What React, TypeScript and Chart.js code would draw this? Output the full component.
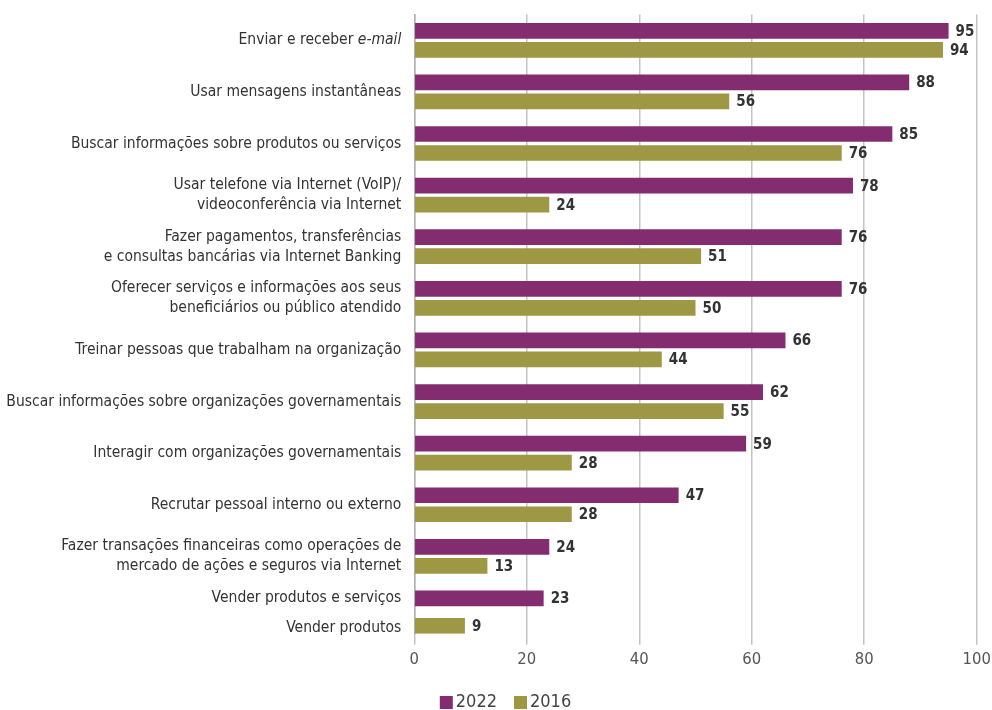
import React, { useEffect, useRef } from "react";
import { Chart, registerables } from "chart.js";

Chart.register(...registerables);

const FONT = "'Liberation Sans Narrow', 'DejaVu Sans Condensed', 'Roboto Condensed', 'Arial Narrow', sans-serif";

const categories: (string | string[])[] = [
  "Enviar e receber e-mail",
  "Usar mensagens instantâneas",
  "Buscar informações sobre produtos ou serviços",
  ["Usar telefone via Internet (VoIP)/", "videoconferência via Internet"],
  ["Fazer pagamentos, transferências", "e consultas bancárias via Internet Banking"],
  ["Oferecer serviços e informações aos seus", "beneficiários ou público atendido"],
  "Treinar pessoas que trabalham na organização",
  "Buscar informações sobre organizações governamentais",
  "Interagir com organizações governamentais",
  "Recrutar pessoal interno ou externo",
  ["Fazer transações financeiras como operações de", "mercado de ações e seguros via Internet"],
  ["", "Vender produtos e serviços", "", "", "Vender produtos"],
];

const values2022 = [95, 88, 85, 78, 76, 76, 66, 62, 59, 47, 24, 23];
const values2016 = [94, 56, 76, 24, 51, 50, 44, 55, 28, 28, 13, null];
const values2016Extra = [null, null, null, null, null, null, null, null, null, null, null, 9];
const spacer = [null, null, null, null, null, null, null, null, null, null, null, null];

const xTicks = [0, 20, 40, 60, 80, 100];

const PURPLE = "#842c70";
const OLIVE = "#9e9743";
const GRID = "#c4c4c4";
const LABEL_SIZE = 15.5;

const valueLabels = {
  id: "valueLabels",
  afterDatasetsDraw(chart: any) {
    const ctx = chart.ctx;
    ctx.save();
    ctx.font = `bold 15px ${FONT}`;
    ctx.fillStyle = "#333333";
    ctx.textAlign = "left";
    ctx.textBaseline = "middle";
    chart.data.datasets.forEach((ds: any, di: number) => {
      if (ds.isSpacer) return;
      const meta = chart.getDatasetMeta(di);
      meta.data.forEach((el: any, i: number) => {
        const v = ds.data[i];
        if (v === null || v === undefined) return;
        ctx.fillText(String(v), el.x + 7, el.y + 1);
      });
    });
    ctx.restore();
  },
};

const italicLabel = {
  id: "italicLabel",
  afterDraw(chart: any) {
    const ctx = chart.ctx;
    const yScale = chart.scales.y;
    const y = yScale.getPixelForTick(0);
    const right = yScale.right - 13;
    ctx.save();
    ctx.fillStyle = "#333333";
    ctx.textAlign = "right";
    ctx.textBaseline = "middle";
    ctx.font = `italic ${LABEL_SIZE}px ${FONT}`;
    const w = ctx.measureText("e-mail").width;
    ctx.fillText("e-mail", right, y);
    ctx.font = `${LABEL_SIZE}px ${FONT}`;
    ctx.fillText("Enviar e receber ", right - w, y);
    ctx.restore();
  },
};

const customLegend = {
  id: "customLegend",
  afterDraw(chart: any) {
    const ctx = chart.ctx;
    const items = chart.data.datasets
      .filter((ds: any) => !ds.isSpacer && !ds.legendHidden)
      .map((ds: any) => ({ text: ds.label, color: ds.backgroundColor }));
    ctx.save();
    ctx.font = `18px ${FONT}`;
    ctx.textBaseline = "middle";
    ctx.textAlign = "left";
    const box = 13;
    const gapText = 3;
    const gapItem = 17;
    const widths = items.map((it: any) => box + gapText + ctx.measureText(it.text).width);
    const total = widths.reduce((a: number, b: number) => a + b, 0) + gapItem * (items.length - 1);
    const cy = chart.height - 7.5;
    let x = 505.5 - total / 2;
    items.forEach((it: any, i: number) => {
      ctx.fillStyle = it.color;
      ctx.fillRect(x, cy - box / 2, box, box);
      ctx.fillStyle = "#444444";
      ctx.fillText(it.text, x + box + gapText, cy);
      x += widths[i] + gapItem;
    });
    ctx.restore();
  },
};

export default function App() {
  const ref = useRef<HTMLCanvasElement | null>(null);

  useEffect(() => {
    document.body.style.margin = "0";
    if (!ref.current) return;
    Chart.defaults.font.family = FONT;
    const chart = new Chart(ref.current, {
      type: "bar",
      data: {
        labels: categories as any,
        datasets: [
          {
            label: "2022",
            data: values2022,
            backgroundColor: PURPLE,
            stack: "a",
            skipNull: true,
            categoryPercentage: 0.7364,
            barPercentage: 0.826,
          } as any,
          {
            label: "",
            data: spacer,
            isSpacer: true,
            backgroundColor: "rgba(0,0,0,0)",
            stack: "s",
            skipNull: true,
          } as any,
          {
            label: "2016",
            data: values2016,
            backgroundColor: OLIVE,
            stack: "b",
            skipNull: true,
            categoryPercentage: 0.7364,
            barPercentage: 0.826,
          } as any,
          {
            label: "2016",
            data: values2016Extra,
            backgroundColor: OLIVE,
            stack: "b",
            legendHidden: true,
            skipNull: false,
            categoryPercentage: 1.0407,
            barPercentage: 0.877,
          } as any,
        ],
      },
      options: {
        indexAxis: "y",
        animation: false,
        responsive: true,
        maintainAspectRatio: false,
        layout: { padding: { top: 14.5, left: 0, right: 15.3, bottom: 26 } },
        scales: {
          x: {
            min: 0,
            max: 100,
            stacked: false,
            afterBuildTicks: (scale: any) => {
              scale.ticks = xTicks.map((v) => ({ value: v }));
            },
            afterFit: (scale: any) => {
              scale.height = 50.25;
              scale.paddingLeft = 0;
              scale.paddingRight = 0;
            },
            grid: {
              color: GRID,
              lineWidth: 1.5,
              drawTicks: true,
              tickLength: 11,
            },
            border: { display: false },
            ticks: {
              padding: 5,
              color: "#555555",
              font: { size: 16.5 },
            },
          },
          y: {
            afterFit: (scale: any) => {
              scale.width = 414.3;
              scale.paddingTop = 0;
              scale.paddingBottom = 0;
            },
            grid: { display: false, drawTicks: false },
            border: { display: true, color: "#b0b0b0", width: 1.5 },
            ticks: {
              autoSkip: false,
              padding: 13,
              color: (c: any) => (c.index === 0 ? "rgba(0,0,0,0)" : "#333333"),
              font: (c: any) =>
                c.index === 11
                  ? { size: LABEL_SIZE, lineHeight: 9.77 / LABEL_SIZE }
                  : { size: LABEL_SIZE, lineHeight: 20 / LABEL_SIZE },
            },
          },
        },
        plugins: {
          legend: { display: false },
          tooltip: { enabled: false },
        },
      } as any,
      plugins: [valueLabels, italicLabel, customLegend],
    });
    return () => chart.destroy();
  }, []);

  return (
    <div style={{ position: "relative", width: "992px", height: "710px" }}>
      <canvas ref={ref} />
    </div>
  );
}
